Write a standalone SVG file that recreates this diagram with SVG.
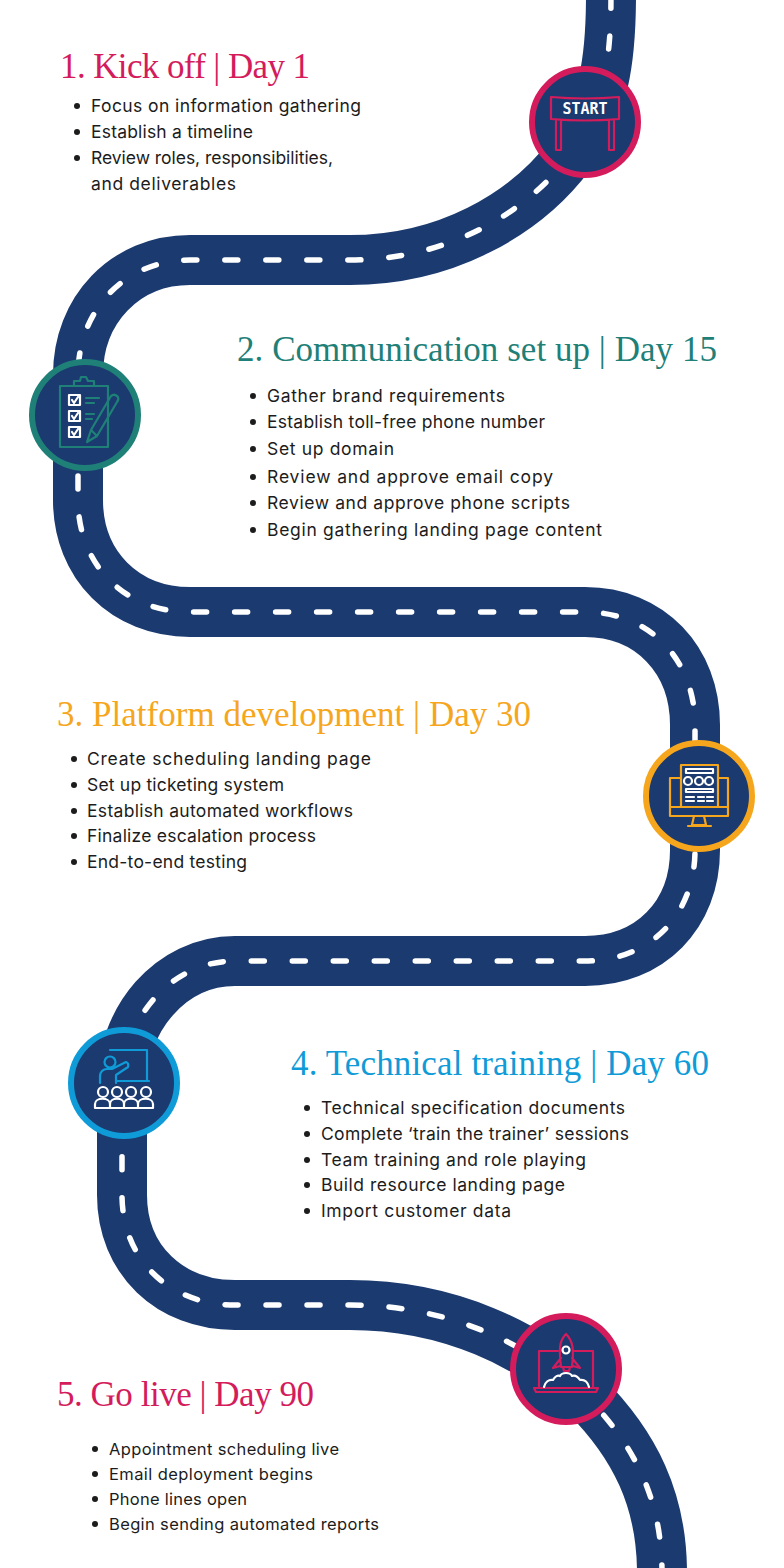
<svg xmlns="http://www.w3.org/2000/svg" width="784" height="1568" viewBox="0 0 784 1568">
<style>
.road{fill:none;stroke:#1b3a70;stroke-width:50}
.dash{fill:none;stroke:#fff;stroke-width:5.5;stroke-linecap:round;stroke-dasharray:13 28}
.h{font-family:"Liberation Serif",serif;font-size:35px}
.b{font-family:"Inter","Liberation Sans",sans-serif;font-size:17.5px;fill:#1c1c1c}
.bs{font-family:"Inter","Liberation Sans",sans-serif;font-size:16.5px;fill:#1c1c1c}
.disc{fill:#1b3a70;stroke-width:6}
.i{fill:none;stroke-width:2.2;stroke-linejoin:round;stroke-linecap:round}
.w{fill:none;stroke:#fff;stroke-width:2.2;stroke-linejoin:round;stroke-linecap:round}
.pink{stroke:#d41c5c}.teal{stroke:#1f8078}.gold{stroke:#f5a61d}.blue{stroke:#0f9bd7}
</style>
<g id="connectors">
<path id="road" class="road" d="M611 -5C611 60 604 110 570 155C525 215 445 260 350 260L190 260C125 260 78 310 78 375L78 500C78 565 125 612 190 612L585 612C650 612 695 660 695 725L695 850C695 915 650 961 585 961L235 961C170 961 122 1020 122 1085L122 1195C122 1260 170 1305 235 1305L350 1305C450 1305 530 1345 585 1395C635 1445 662 1500 662 1573"/>
<path id="road-dashes" class="dash" d="M611 -5C611 60 604 110 570 155C525 215 445 260 350 260L190 260C125 260 78 310 78 375L78 500C78 565 125 612 190 612L585 612C650 612 695 660 695 725L695 850C695 915 650 961 585 961L235 961C170 961 122 1020 122 1085L122 1195C122 1260 170 1305 235 1305L350 1305C450 1305 530 1345 585 1395C635 1445 662 1500 662 1573"/>
</g>
<g id="step1">
<circle class="disc pink" cx="585" cy="122" r="53"/>
<path class="i pink" d="M551 97Q585 100 619 97L619 119Q585 122 551 119ZM556 120L556 150L561 150L561 120M609 120L609 150L614 150L614 120"/>
<text x="585" y="114" text-anchor="middle" font-family="DejaVu Sans Mono,monospace" font-weight="bold" font-size="15" fill="#fff">START</text>
<text class="h" x="60" y="78" fill="#d41c5c" textLength="250">1. Kick off | Day 1</text>
<text class="b" x="91" y="112" textLength="270">Focus on information gathering</text>
<text class="b" x="91" y="138" textLength="162">Establish a timeline</text>
<text class="b" x="91" y="164" textLength="242">Review roles, responsibilities,</text>
<text class="b" x="91" y="190" textLength="145">and deliverables</text>
<g fill="#1c1c1c"><circle cx="77" cy="106" r="3"/><circle cx="77" cy="132" r="3"/><circle cx="77" cy="158" r="3"/></g>
</g>
<g id="step2">
<circle class="disc teal" cx="85" cy="415" r="53"/>
<path class="i teal" d="M60 386H108V447H60ZM74 386L74 381L80 381L81 377L86 377L88 381L94 381L94 386M86 398L99 398M86 403L94 403M86 414L94 414M86 419L92 419"/>
<path class="i teal" d="M87 442L91 430L111 396Q115 393 118 397Q119 400 117 402L97 436ZM91 430L97 436"/>
<path class="w" d="M69 395H80V405H69ZM69 411H80V421H69ZM69 427H80V437H69ZM72 400L74 403L78 397M72 416L74 419L78 413M72 432L74 435L78 429"/>
<text class="h" x="237" y="361" fill="#1f8078" textLength="480">2. Communication set up | Day 15</text>
<text class="b" x="267" y="402" textLength="238">Gather brand requirements</text>
<text class="b" x="267" y="428" textLength="278">Establish toll-free phone number</text>
<text class="b" x="267" y="455" textLength="127">Set up domain</text>
<text class="b" x="267" y="483" textLength="286">Review and approve email copy</text>
<text class="b" x="267" y="509" textLength="303">Review and approve phone scripts</text>
<text class="b" x="267" y="536" textLength="335">Begin gathering landing page content</text>
<g fill="#1c1c1c"><circle cx="253" cy="396" r="3"/><circle cx="253" cy="422" r="3"/><circle cx="253" cy="449" r="3"/><circle cx="253" cy="477" r="3"/><circle cx="253" cy="503" r="3"/><circle cx="253" cy="530" r="3"/></g>
</g>
<g id="step3">
<circle class="disc gold" cx="699" cy="796" r="53"/>
<path class="i gold" d="M681 778H670V816H728V778H718M670 807H681M718 807H728M681 765H718V807H681ZM694 816L692 825H706L704 816M688 826H711"/>
<path class="w" d="M686 769H713V773H686ZM686 789H713V792H686ZM686 797H694M698 797H704M707 797H713M686 801H694M698 801H704M707 801H713"/>
<g class="w"><circle cx="688" cy="781" r="4"/><circle cx="699" cy="781" r="4"/><circle cx="709" cy="781" r="4"/></g>
<text class="h" x="57" y="726" fill="#f5a61d" textLength="474">3. Platform development | Day 30</text>
<text class="b" x="87" y="765" textLength="284">Create scheduling landing page</text>
<text class="b" x="87" y="791" textLength="197">Set up ticketing system</text>
<text class="b" x="87" y="817" textLength="266">Establish automated workflows</text>
<text class="b" x="87" y="842" textLength="229">Finalize escalation process</text>
<text class="b" x="87" y="868" textLength="160">End-to-end testing</text>
<g fill="#1c1c1c"><circle cx="74" cy="759" r="3"/><circle cx="74" cy="785" r="3"/><circle cx="74" cy="811" r="3"/><circle cx="74" cy="836" r="3"/><circle cx="74" cy="862" r="3"/></g>
</g>
<g id="step4">
<circle class="disc blue" cx="124" cy="1083" r="53"/>
<path class="i blue" d="M110 1050H147V1080M117 1081H149M100 1083V1076C100 1072 103 1069 107 1069L112 1069L126 1062Q129 1063 128 1067L116 1075V1083"/>
<circle class="i blue" cx="110" cy="1062" r="5.5"/>
<g class="w"><circle cx="103" cy="1092" r="5"/><circle cx="117" cy="1092" r="5"/><circle cx="131" cy="1092" r="5"/><circle cx="146" cy="1092" r="5"/><path d="M95 1108V1104C95 1097 110 1097 110 1104V1108ZM110 1108V1104C110 1097 124 1097 124 1104V1108ZM124 1108V1104C124 1097 138 1097 138 1104V1108ZM138 1108V1104C138 1097 153 1097 153 1104V1108Z"/></g>
<text class="h" x="291" y="1075" fill="#0f9bd7" textLength="418">4. Technical training | Day 60</text>
<text class="b" x="321" y="1114" textLength="304">Technical specification documents</text>
<text class="b" x="321" y="1140" textLength="308">Complete ‘train the trainer’ sessions</text>
<text class="b" x="321" y="1166" textLength="265">Team training and role playing</text>
<text class="b" x="321" y="1191" textLength="244">Build resource landing page</text>
<text class="b" x="321" y="1217" textLength="190">Import customer data</text>
<g fill="#1c1c1c"><circle cx="307" cy="1108" r="3"/><circle cx="307" cy="1134" r="3"/><circle cx="307" cy="1160" r="3"/><circle cx="307" cy="1185" r="3"/><circle cx="307" cy="1211" r="3"/></g>
</g>
<g id="step5">
<circle class="disc pink" cx="566" cy="1369" r="53"/>
<path class="i pink" d="M539 1387V1351H558M574 1351H593V1387M534 1388H598L596 1392H536Z"/>
<path class="i pink" d="M566 1334C559 1341 559 1349 561 1367H572C574 1349 573 1341 566 1334ZM561 1358L553 1368L560 1366M572 1358L580 1368L573 1366M563 1367L564 1371H569L570 1367"/>
<circle class="w" cx="566" cy="1350" r="3.5"/>
<path class="w" d="M544 1387C545 1382 549 1379 553 1380C555 1376 558 1375 560 1376C562 1372 570 1372 572 1376C575 1375 578 1377 580 1380C585 1379 588 1383 589 1387"/>
<text class="h" x="57" y="1406" fill="#d41c5c" textLength="257">5. Go live | Day 90</text>
<text class="bs" x="109" y="1455" textLength="230">Appointment scheduling live</text>
<text class="bs" x="109" y="1480" textLength="204">Email deployment begins</text>
<text class="bs" x="109" y="1505" textLength="138">Phone lines open</text>
<text class="bs" x="109" y="1530" textLength="270">Begin sending automated reports</text>
<g fill="#1c1c1c"><circle cx="95" cy="1449" r="3"/><circle cx="95" cy="1474" r="3"/><circle cx="95" cy="1499" r="3"/><circle cx="95" cy="1524" r="3"/></g>
</g>
</svg>
